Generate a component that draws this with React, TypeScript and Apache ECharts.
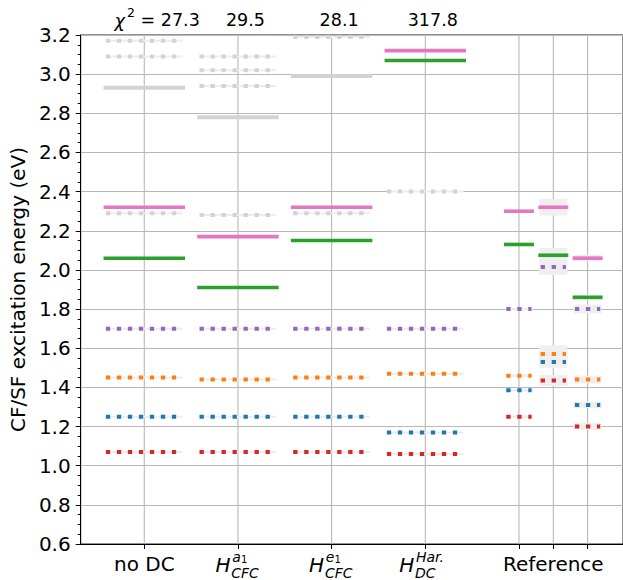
import React, { useEffect, useRef } from "react";
import * as echarts from "echarts";

// ---- data ----
const theoryX = [0, 1, 2, 3];
const refX = [4, 4.367, 4.733];
const gridX = [0, 1, 2, 3, 4, 4.367, 4.733];
const chi2Values = ["27.3", "29.5", "28.1", "317.8"];

// theory, solid levels
const pinkTheory = [2.32, 2.17, 2.32, 3.12];
const greenTheory = [2.06, 1.91, 2.15, 3.07];
const grayTheorySolid = [2.93, 2.78, 2.99, null];
// theory, dotted levels
const purpleTheory = [1.7, 1.7, 1.7, 1.7];
const orangeTheory = [1.45, 1.44, 1.45, 1.47];
const blueTheory = [1.25, 1.25, 1.25, 1.17];
const redTheory = [1.07, 1.07, 1.07, 1.06];
const grayDottedNoDC = [3.17, 3.09, 2.29];
const grayDottedA1 = [3.09, 3.02, 2.94, 2.28];
const grayDottedE1 = [3.19, 2.29];
const grayDottedHar = [2.4];

// reference levels
const pinkRef = [2.3, 2.32, 2.06];
const greenRef = [2.13, 2.075, 1.86];
const purpleRef = [1.8, 2.015, 1.8];
const orangeRef = [1.46, 1.57, 1.44];
const blueRef = [1.385, 1.53, 1.31];
const redRef = [1.25, 1.435, 1.2];
// reference uncertainties
const pinkRefErr = [0.006, 0.042, 0.017];
const greenRefErr = [0.006, 0.037, 0.013];
const purpleRefErr = [0.006, 0.04, 0.023];
const orangeRefErr = [0.006, 0.045, 0.02];
const blueRefErr = [0.006, 0.03, 0.017];
const redRefErr = [0.006, 0.028, 0.017];

const C = {
  pink: "#e377c2",
  green: "#2ca02c",
  purple: "#9467bd",
  orange: "#ff7f0e",
  blue: "#1f77b4",
  red: "#d62728",
  gray: "#d3d3d3",
};

const FONT = "DejaVu Sans";

const pts = (xs: number[], ys: (number | null)[]) =>
  xs.map((x, i) => [x, ys[i]]).filter((p) => p[1] != null) as number[][];

const multi = (x: number, ys: number[]) => ys.map((y) => [x, y]);

const segSeries = (
  points: number[][],
  color: string,
  hw: number,
  dotted: boolean,
  lw: number
) => ({
  type: "custom",
  coordinateSystem: "cartesian2d",
  silent: true,
  clip: true,
  data: points,
  encode: { x: 0, y: 1 },
  renderItem: (params: any, api: any) => {
    const x = api.value(0);
    const y = api.value(1);
    const a = api.coord([x - hw, y]);
    const b = api.coord([x + hw, y]);
    const shape = { x1: a[0], y1: a[1], x2: b[0], y2: b[1] };
    const children: any[] = [];
    if (dotted) {
      children.push({
        type: "line",
        shape,
        style: { stroke: "#ededed", lineWidth: 2 },
      });
    }
    children.push({
      type: "line",
      shape,
      style: {
        stroke: color,
        lineWidth: lw,
        lineDash: dotted ? [4.3, 6.7] : null,
        lineCap: "butt",
      },
    });
    return { type: "group", children };
  },
});

const bandSeries = (xs: number[], ys: number[], errs: number[], hw: number) => ({
  type: "custom",
  coordinateSystem: "cartesian2d",
  silent: true,
  data: xs.map((x, i) => [x, ys[i], errs[i]]),
  encode: { x: 0, y: 1 },
  renderItem: (params: any, api: any) => {
    const x = api.value(0);
    const y = api.value(1);
    const e = api.value(2);
    const a = api.coord([x - hw, y + e]);
    const b = api.coord([x + hw, y - e]);
    return {
      type: "rect",
      shape: { x: a[0], y: a[1], width: b[0] - a[0], height: b[1] - a[1] },
      style: { fill: "#efefef" },
    };
  },
});

const vGridSeries = {
  type: "custom",
  coordinateSystem: "cartesian2d",
  silent: true,
  data: gridX.map((x) => [x, 0.6]),
  encode: { x: 0, y: 1 },
  renderItem: (params: any, api: any) => {
    const x = api.value(0);
    const a = api.coord([x, 0.6]);
    const b = api.coord([x, 3.2]);
    return {
      type: "line",
      shape: { x1: a[0], y1: a[1], x2: b[0], y2: b[1] },
      style: { stroke: "#b8b8b8", lineWidth: 1.1 },
    };
  },
};

const TW = 0.435; // theory solid half width
const TD = 0.41; // theory dotted half width
const RW = 0.16; // reference solid half width
const RD = 0.135; // reference dotted half width
const BW = 0.15; // reference band half width

export default function App() {
  const ref = useRef<HTMLDivElement>(null);
  useEffect(() => {
    if (!ref.current) return;
    const chart = echarts.init(ref.current, null, { renderer: "svg" });
    const series: any[] = [
      vGridSeries,
      bandSeries(refX, pinkRef, pinkRefErr, BW),
      bandSeries(refX, greenRef, greenRefErr, BW),
      bandSeries(refX, purpleRef, purpleRefErr, BW),
      bandSeries(refX, orangeRef, orangeRefErr, BW),
      bandSeries(refX, blueRef, blueRefErr, BW),
      bandSeries(refX, redRef, redRefErr, BW),
      segSeries(
        [
          ...multi(0, grayDottedNoDC),
          ...multi(1, grayDottedA1),
          ...multi(2, grayDottedE1),
          ...multi(3, grayDottedHar),
        ],
        C.gray,
        TD,
        true,
        4
      ),
      segSeries(pts(theoryX, grayTheorySolid), C.gray, TW, false, 4),
      segSeries(pts(theoryX, purpleTheory), C.purple, TD, true, 4),
      segSeries(pts(theoryX, orangeTheory), C.orange, TD, true, 4),
      segSeries(pts(theoryX, blueTheory), C.blue, TD, true, 4),
      segSeries(pts(theoryX, redTheory), C.red, TD, true, 4),
      segSeries(pts(theoryX, greenTheory), C.green, TW, false, 3.6),
      segSeries(pts(theoryX, pinkTheory), C.pink, TW, false, 3.6),
      segSeries(pts(refX, purpleRef), C.purple, RD, true, 4),
      segSeries(pts(refX, orangeRef), C.orange, RD, true, 4),
      segSeries(pts(refX, blueRef), C.blue, RD, true, 4),
      segSeries(pts(refX, redRef), C.red, RD, true, 4),
      segSeries(pts(refX, greenRef), C.green, RW, false, 3.6),
      segSeries(pts(refX, pinkRef), C.pink, RW, false, 3.6),
    ];
    chart.setOption({
      animation: false,
      backgroundColor: "#ffffff",
      grid: {
        left: 79,
        top: 35,
        right: -2,
        bottom: 36,
        show: true,
        borderColor: "#222",
        borderWidth: 1,
        backgroundColor: "transparent",
      },
      xAxis: {
        type: "value",
        min: -0.6787,
        max: 5.111,
        axisLine: { show: true, onZero: false, lineStyle: { color: "#000", width: 1 } },
        axisTick: {
          show: true,
          customValues: gridX,
          length: 5,
          lineStyle: { color: "#000", width: 1 },
        },
        axisLabel: { show: false },
        splitLine: { show: false },
      },
      yAxis: {
        type: "value",
        min: 0.6,
        max: 3.2,
        interval: 0.2,
        name: "CF/SF excitation energy (eV)",
        nameLocation: "middle",
        nameGap: 51,
        nameTextStyle: { fontSize: 20, color: "#000", fontFamily: FONT },
        axisLine: { show: true, onZero: false, lineStyle: { color: "#000", width: 1 } },
        axisTick: { show: true, length: 5, lineStyle: { color: "#000", width: 1 } },
        minorTick: { show: true, splitNumber: 4, length: 3, lineStyle: { color: "#000", width: 1 } },
        axisLabel: {
          fontSize: 20,
          color: "#000",
          fontFamily: FONT,
          margin: 10,
          formatter: (v: number) => v.toFixed(1),
        },
        splitLine: { show: true, lineStyle: { color: "#b8b8b8", width: 1.1 } },
      },
      series,
    });

    const px = (v: number) => chart.convertToPixel({ xAxisIndex: 0 }, v) as number;
    const txt = (
      text: string,
      x: number,
      y: number,
      size: number,
      align: string,
      italic = false
    ) => ({
      type: "text",
      x,
      y,
      silent: true,
      style: {
        text,
        fill: "#000",
        fontSize: size,
        fontFamily: FONT,
        fontStyle: italic ? "italic" : "normal",
        align,
        verticalAlign: "middle",
      },
    });
    const graphic: any[] = [];
    // x labels
    graphic.push(txt("no DC", px(theoryX[0]), 564, 20, "center"));
    const hLabel = (cx: number, sup: string, subNum: string | null, sub: string, off: number) => {
      const hl = cx - off;
      graphic.push(txt("H", hl, 565, 20, "left", true));
      graphic.push(txt(sup, hl + 16.7, 557, 14, "left", true));
      if (subNum) graphic.push(txt(subNum, hl + 25.5, 559.5, 10, "left"));
      graphic.push(txt(sub, hl + 15.8, 572.5, 14, "left", true));
    };
    hLabel(px(theoryX[1]), "a", "1", "CFC", 22.5);
    hLabel(px(theoryX[2]), "e", "1", "CFC", 22.5);
    hLabel(px(theoryX[3]), "Har.", null, "DC", 26);
    graphic.push(txt("Reference", px(refX[1]), 564, 20, "center"));
    // chi^2 annotations
    const c0 = px(theoryX[0]);
    graphic.push(txt("χ", c0 - 29.7, 21, 17.5, "left", true));
    graphic.push(txt("2", c0 - 17.3, 12, 12.5, "left"));
    graphic.push(txt("= " + chi2Values[0], c0 - 3.7, 20, 17.5, "left"));
    for (let i = 1; i < chi2Values.length; i++) {
      graphic.push(txt(chi2Values[i], px(theoryX[i]) + 7.5, 20, 17.5, "center"));
    }
    chart.setOption({ graphic });

    return () => chart.dispose();
  }, []);
  return (
    <div
      ref={ref}
      style={{ position: "fixed", left: 0, top: 0, width: 623, height: 580, background: "#fff" }}
    />
  );
}
